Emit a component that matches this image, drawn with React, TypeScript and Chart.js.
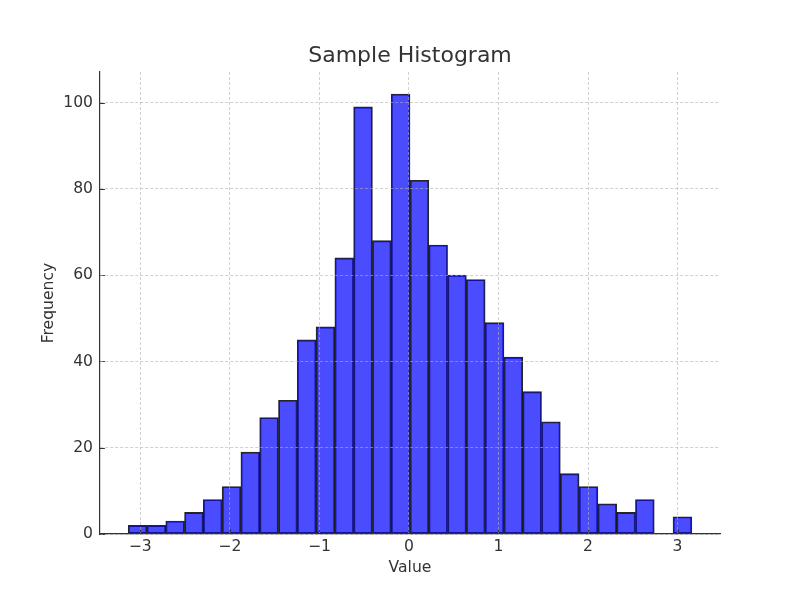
import React, { useEffect, useRef } from "react";
import { Chart, registerables } from "chart.js";

Chart.register(...registerables);

// Histogram: 30 equal-width bins
const binLow = -3.135;
const binWidth = 0.2098;
const counts = [
  2, 2, 3, 5, 8, 11, 19, 27, 31, 45, 48, 64, 99, 68, 102, 82, 67, 60, 59, 49,
  41, 33, 26, 14, 11, 7, 5, 8, 0, 4,
];
const xTicks = [-3, -2, -1, 0, 1, 2, 3];
const yTicks = [0, 20, 40, 60, 80, 100];

const TEXT = "#333333";
const FONT = "'DejaVu Sans', sans-serif";

const innerTicks = {
  id: "innerTicks",
  afterDatasetsDraw(chart: any) {
    const { ctx, chartArea, scales } = chart;
    ctx.save();
    ctx.strokeStyle = TEXT;
    ctx.lineWidth = 1;
    const len = 4.9;
    ctx.beginPath();
    scales.x.ticks.forEach((t: any) => {
      const px = Math.round(scales.x.getPixelForValue(t.value)) + 0.5;
      ctx.moveTo(px, chartArea.bottom);
      ctx.lineTo(px, chartArea.bottom - len);
    });
    scales.y.ticks.forEach((t: any) => {
      const py = Math.round(scales.y.getPixelForValue(t.value)) + 0.5;
      ctx.moveTo(chartArea.left, py);
      ctx.lineTo(chartArea.left + len, py);
    });
    ctx.stroke();
    ctx.restore();
  },
};

export default function App() {
  const ref = useRef<HTMLCanvasElement | null>(null);

  useEffect(() => {
    if (!ref.current) return;
    const data = counts.map((c, i) => ({ x: binLow + binWidth * (i + 0.5), y: c }));
    const span = binWidth * counts.length;
    const chart = new Chart(ref.current, {
      type: "bar",
      data: {
        datasets: [
          {
            label: "Frequency",
            data,
            backgroundColor: "rgba(0,0,255,0.7)",
            borderColor: "rgba(0,0,0,0.85)",
            borderWidth: 1.2,
            borderSkipped: false,
            barPercentage: 1,
            categoryPercentage: 1,
          },
        ],
      },
      options: {
        responsive: false,
        animation: false,
        layout: { padding: { left: 0, right: 80, top: 0, bottom: 0 } },
        plugins: {
          legend: { display: false },
          tooltip: { enabled: false },
          title: {
            display: true,
            text: "Sample Histogram",
            color: TEXT,
            fullSize: false,
            font: { family: FONT, size: 22, weight: "normal", lineHeight: 1.2 },
            padding: { top: 42.6, bottom: 3 },
          },
        },
        scales: {
          x: {
            type: "linear",
            offset: false,
            min: binLow - 0.05 * span,
            max: binLow + span + 0.05 * span,
            afterBuildTicks: (scale: any) => {
              scale.ticks = xTicks.map((v) => ({ value: v }));
            },
            afterFit: (scale: any) => {
              scale.height = 66;
            },
            ticks: {
              includeBounds: false,
              color: TEXT,
              padding: 4,
              font: { family: FONT, size: 15.6 },
              maxRotation: 0,
              callback: (v: any) => (v < 0 ? "\u2212" + Math.abs(v) : String(v)),
            },
            grid: {
              offset: false,
              drawTicks: false,
              color: "rgba(176,176,176,0.6)",
              lineWidth: 1,
              z: 1,
            },
            border: { display: true, color: TEXT, width: 1.2, dash: [3, 2], z: 2 },
            title: {
              display: true,
              text: "Value",
              color: TEXT,
              font: { family: FONT, size: 15.6, lineHeight: 1.2 },
              padding: { top: 0, bottom: 22.8 },
            },
          },
          y: {
            type: "linear",
            min: 0,
            max: 107.1,
            afterBuildTicks: (scale: any) => {
              scale.ticks = yTicks.map((v) => ({ value: v }));
            },
            afterFit: (scale: any) => {
              scale.width = 100;
            },
            ticks: {
              includeBounds: false,
              color: TEXT,
              padding: 7,
              font: { family: FONT, size: 15.6 },
            },
            grid: {
              drawTicks: false,
              color: "rgba(176,176,176,0.6)",
              lineWidth: 1,
              z: 1,
            },
            border: { display: true, color: TEXT, width: 1.2, dash: [3, 2], z: 2 },
            title: {
              display: true,
              text: "Frequency",
              color: TEXT,
              font: { family: FONT, size: 15.6, lineHeight: 1.2 },
              padding: { top: 40, bottom: 0 },
            },
          },
        },
      },
      plugins: [innerTicks],
    });
    return () => chart.destroy();
  }, []);

  return (
    <div style={{ position: "absolute", left: 0, top: 0, width: 800, height: 600, background: "#fff" }}>
      <canvas ref={ref} width={800} height={600} />
    </div>
  );
}
